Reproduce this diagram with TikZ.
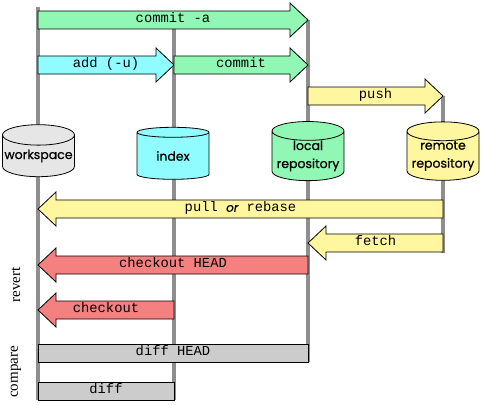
\documentclass[tikz,border=0pt]{standalone}
\usepackage{fontspec}
\usepackage{tikz}
\usetikzlibrary{shapes.geometric}
\setmainfont{Liberation Serif}
\setmonofont{Liberation Mono}
\newfontfamily\storefont{Poppins}

\definecolor{wsgray}{HTML}{E6E6E6}
\definecolor{idxcyan}{HTML}{90FCFF}
\definecolor{locgreen}{HTML}{90F8B4}
\definecolor{remyellow}{HTML}{FFF6A0}
\definecolor{revred}{HTML}{F58080}
\definecolor{diffgray}{HTML}{CCCCCC}
\definecolor{lanegray}{HTML}{8E8E8E}

% block arrow pointing right: name, from x, to x, y, fill, text
\newcommand{\rblock}[6]{%
  \filldraw[block, fill=#5] (#2,#4-9) -- (#3-18,#4-9) -- (#3-18,#4-17) -- (#3,#4)
    -- (#3-18,#4+17) -- (#3-18,#4+9) -- (#2,#4+9) -- cycle;
  \node[cmd] (#1) at ({(#2+#3)/2},#4) {#6};}
% block arrow pointing left: name, head x, tail x, y, fill, text
\newcommand{\lblock}[6]{%
  \filldraw[block, fill=#5] (#3,#4-9) -- (#2+18,#4-9) -- (#2+18,#4-17) -- (#2,#4)
    -- (#2+18,#4+17) -- (#2+18,#4+9) -- (#3,#4+9) -- cycle;
  \node[cmd] (#1) at ({(#2+#3)/2},#4) {#6};}

\begin{document}
\begin{tikzpicture}[x=1pt, y=-1pt,
  lane/.style={draw=lanegray, line width=3.2pt},
  block/.style={draw=black, line width=0.8pt, line join=miter},
  cmd/.style={font=\ttfamily\fontsize{13.8}{14}\selectfont, inner sep=0pt, text height=1.4ex, text depth=0.2ex},
  store/.style={cylinder, shape border rotate=90, draw, line width=0.8pt, aspect=0.3,
    minimum width=72pt, minimum height=52pt, inner sep=0pt, align=center,
    font=\storefont\addfontfeature{FakeBold=0.7}\fontsize{12.5}{18}\selectfont},
  side/.style={rotate=90, font=\fontsize{15}{16}\selectfont, inner sep=0pt}]
  \useasboundingbox (0,0) rectangle (481,404);

  % lanes
  \coordinate (ws top) at (38,7);
  \coordinate (ws bottom) at (38,400);
  \coordinate (idx top) at (174,20);
  \coordinate (idx bottom) at (174,400);
  \coordinate (loc top) at (308,20);
  \coordinate (loc bottom) at (308,362);
  \coordinate (rem top) at (443,96);
  \coordinate (rem bottom) at (443,253);
  \draw[lane] (ws top) -- (ws bottom);
  \draw[lane] (idx top) -- (idx bottom);
  \draw[lane] (loc top) -- (loc bottom);
  \draw[lane] (rem top) -- (rem bottom);

  % stores
  \node[store, fill=wsgray] (workspace) at (38.5,156) {workspace};
  \node[store, fill=idxcyan] (index) at (173,156) {index};
  \node[store, fill=locgreen] (local) at (308,156) {local\\repository};
  \node[store, fill=remyellow] (remote) at (443,156) {remote\\repository};

  % commands
  \rblock{commita}{38}{308}{20}{locgreen}{commit -a}
  \rblock{add}{38}{174}{65}{idxcyan}{add (-u)}
  \rblock{commit}{174}{308}{65}{locgreen}{commit}
  \rblock{push}{308}{443}{96}{remyellow}{push}
  \lblock{pull}{38}{443}{209}{remyellow}{pull {\storefont\itshape\addfontfeature{FakeBold=0.5}\fontsize{12}{14}\selectfont or} rebase}
  \lblock{fetch}{308}{443}{243}{remyellow}{fetch}
  \lblock{cohead}{38}{308}{265}{revred}{checkout HEAD}
  \lblock{checkout}{38}{174}{310}{revred}{checkout}
  \filldraw[block, fill=diffgray] (38,344) rectangle (308,362);
  \node[cmd] (diffhead) at (173,353) {diff HEAD};
  \filldraw[block, fill=diffgray] (38,382) rectangle (174,400);
  \node[cmd] (diff) at (106,391) {diff};

  % groups
  \node[side] (revert) at (16,285) {revert};
  \node[side] (compare) at (16,372) {compare};
\end{tikzpicture}
\end{document}
